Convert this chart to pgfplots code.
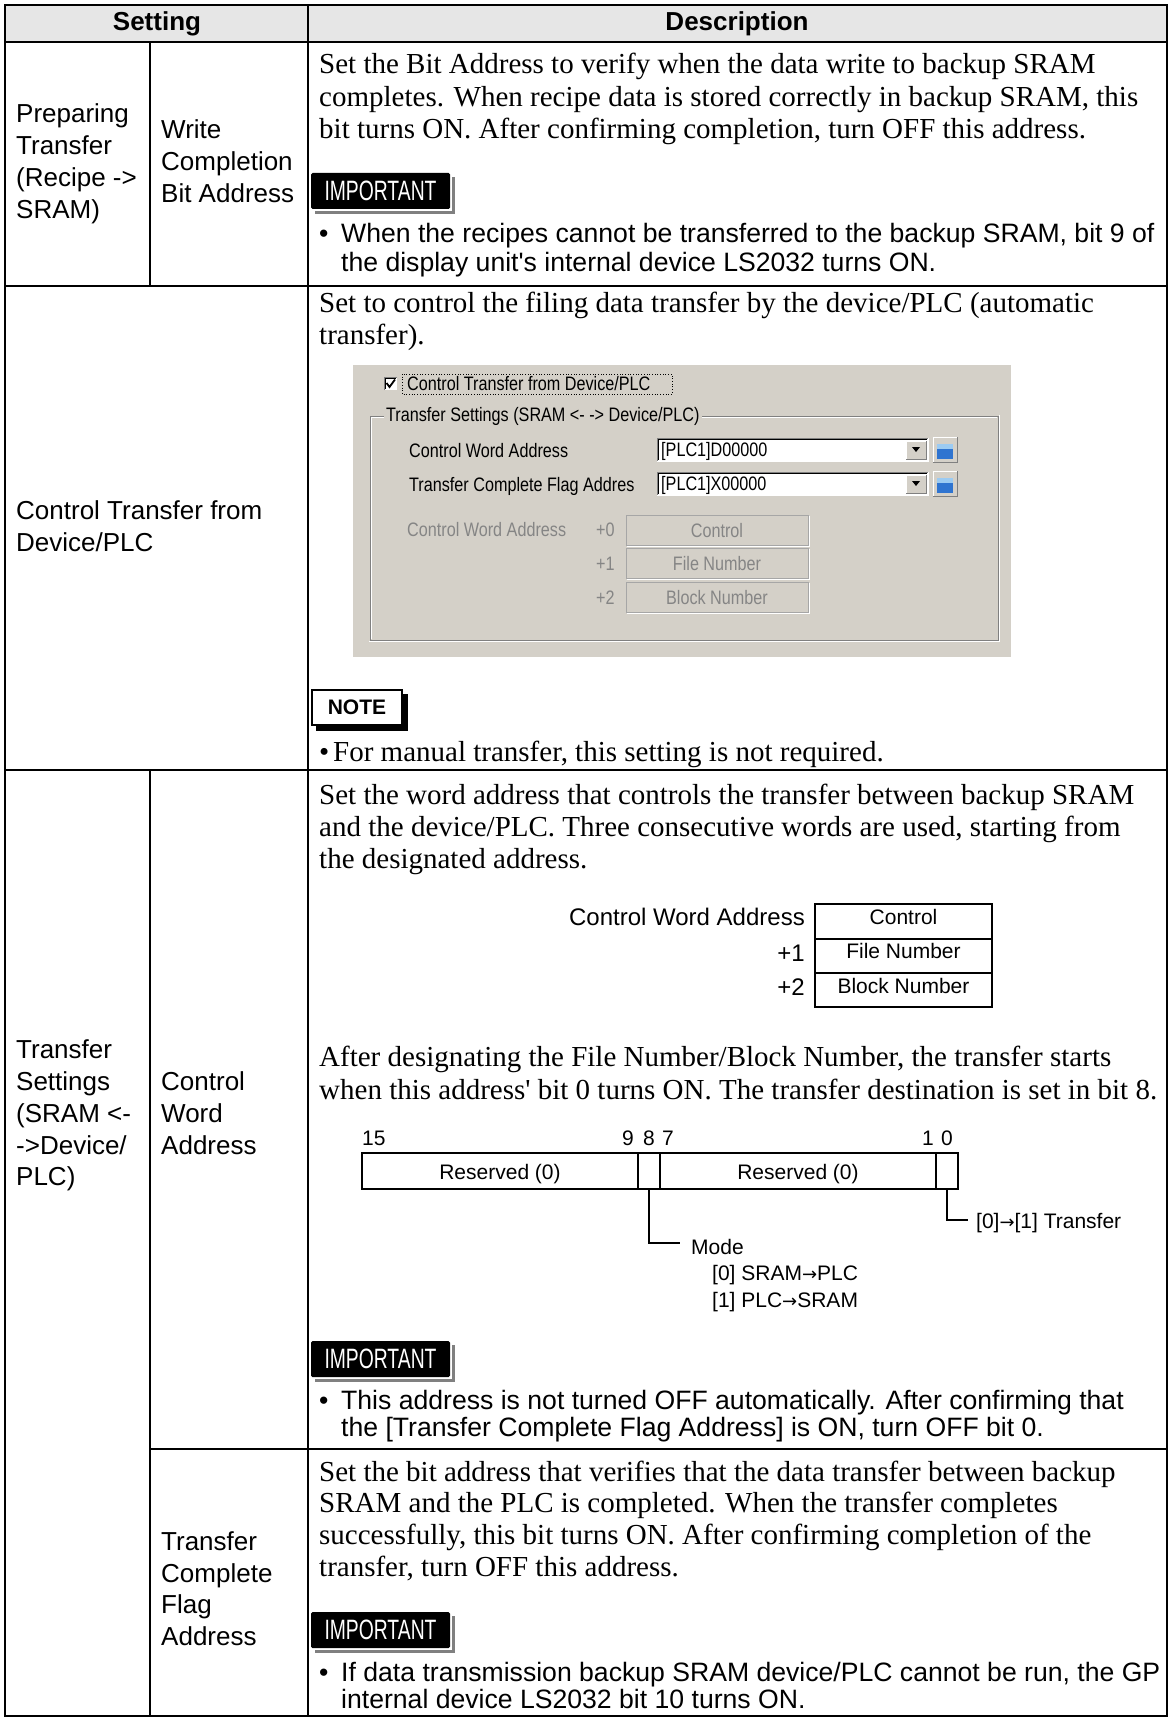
\documentclass[border=0pt]{standalone}
\usepackage{pgfplots}
\pgfplotsset{compat=1.18}
\usepackage{fontspec}
\setmainfont{Liberation Serif}
\setsansfont{Liberation Sans}
\newfontfamily\guifont[FakeStretch=0.83]{Liberation Sans}
\newfontfamily\condfont[FakeStretch=0.69]{Liberation Sans}
\newfontfamily\djv{DejaVu Sans}
\definecolor{hdr}{HTML}{E6E6E6}
\definecolor{guibg}{HTML}{D4D0C8}
\definecolor{guidis}{HTML}{858585}
\definecolor{guidark}{HTML}{808080}
\definecolor{iconblue}{HTML}{2F74D0}
\definecolor{iconlight}{HTML}{9CCBF2}
\newcommand{\arr}{{\djv\fontsize{18}{18}\selectfont →}}
\tikzset{
  bt/.style={anchor=base west, inner sep=0pt, font=\fontsize{29}{32}\selectfont},
  st/.style={anchor=base west, inner sep=0pt, font=\sffamily\fontsize{26}{30}\selectfont},
  sb/.style={anchor=base west, inner sep=0pt, font=\sffamily\fontsize{26.6}{30}\selectfont},
  dt/.style={inner sep=0pt, font=\sffamily\fontsize{21}{24}\selectfont},
  ct/.style={inner sep=0pt, font=\sffamily\fontsize{24}{26}\selectfont},
  gt/.style={anchor=base west, inner sep=0pt, font=\guifont\fontsize{19.5}{21}\selectfont},
  imp/.style={inner sep=0pt, text=white, font=\condfont\fontsize{28}{28}\selectfont},
}
\begin{document}
\begin{tikzpicture}
\begin{axis}[scale only axis, width=1172pt, height=1720pt,
  xmin=0, xmax=1172, ymin=0, ymax=1720, y dir=reverse,
  hide axis, clip=false]
% background
\fill[white] (0,0) rectangle (1172,1720);
% header fill
\fill[hdr] (5,5) rectangle (1167,42);
% table lines
\draw[black, line width=2.4pt, line cap=rect] (5,5) -- (1167,5);
\draw[black, line width=2.4pt] (5,42) -- (1167,42);
\draw[black, line width=2.4pt] (5,286) -- (1167,286);
\draw[black, line width=2.4pt] (5,770) -- (1167,770);
\draw[black, line width=2.4pt] (150,1449) -- (1167,1449);
\draw[black, line width=2.4pt, line cap=rect] (5,1716) -- (1167,1716);
\draw[black, line width=2.4pt, line cap=rect] (5,5) -- (5,1716);
\draw[black, line width=2.4pt] (308,5) -- (308,1716);
\draw[black, line width=2.4pt, line cap=rect] (1167,5) -- (1167,1716);
\draw[black, line width=2.4pt] (150,42) -- (150,286);
\draw[black, line width=2.4pt] (150,770) -- (150,1716);
% header text
\node[anchor=base, inner sep=0pt, font=\sffamily\bfseries\fontsize{26}{30}\selectfont] at (157,31) {Setting};
\node[anchor=base, inner sep=0pt, font=\sffamily\bfseries\fontsize{26}{30}\selectfont] at (737,31) {Description};
%================ Row 1
\node[st] at (16,123) {Preparing};
\node[st] at (16,155) {Transfer};
\node[st] at (16,187) {(Recipe -{}>};
\node[st] at (16,219) {SRAM)};
\node[st] at (161,139) {Write};
\node[st] at (161,171) {Completion};
\node[st] at (161,203) {Bit Address};
\node[bt] at (319,74) {Set the Bit Address to verify when the data write to backup SRAM};
\node[bt] at (319,107) {completes. When recipe data is stored correctly in backup SRAM, this};
\node[bt] at (319,139) {bit turns ON. After confirming completion, turn OFF this address.};
% IMPORTANT badge 1
\fill[guidark] (315,177) rectangle (455,214);
\fill[white] (311,173) rectangle (452,211);
\fill[black, rounded corners=1.5pt] (311,173) rectangle (450,209);
\node[imp] at (380.5,191) {IMPORTANT};
\node[sb] at (319,243) {•};
\node[sb] at (341,243) {When the recipes cannot be transferred to the backup SRAM, bit 9 of};
\node[sb] at (341,272) {the display unit\textquotesingle s internal device LS2032 turns ON.};
%================ Row 2
\node[st] at (16,519) {Control Transfer from};
\node[st] at (16,551) {Device/PLC};
\node[bt] at (319,312) {Set to control the filing data transfer by the device/PLC (automatic};
\node[bt] at (319,344) {transfer).};
% GUI screenshot
\fill[guibg] (353,365) rectangle (1011,657);
% checkbox
\fill[white] (384,377) rectangle (397,390);
\draw[guidark, line width=1pt] (384,390) -- (384,377) -- (397,377);
\draw[black, line width=1pt] (385,389) -- (385,378) -- (396,378);
\draw[black, line width=1.8pt] (386.5,383) -- (389.5,387) -- (395,379.5);
\draw[black, line width=0.7pt, dotted] (402,374) rectangle (672,394);
\node[gt] at (407,390) {Control Transfer from Device/PLC};
% group box
\draw[guidark, line width=1pt] (370,416) rectangle (998,640);
\draw[white, line width=1pt] (371,417) -- (997,417);
\draw[white, line width=1pt] (371,417) -- (371,639);
\draw[white, line width=1pt] (369,641) -- (999,641) -- (999,415);
\node[gt, fill=guibg, inner xsep=2pt, inner ysep=3pt] at (384,421) {Transfer Settings (SRAM <- -{}> Device/PLC)};
\node[gt] at (409,457) {Control Word Address};
\node[gt] at (409,491) {Transfer Complete Flag Addres};
% combo 1
\fill[white] (657,438) rectangle (928,461);
\draw[guidark, line width=1pt] (657,461) -- (657,438) -- (928,438);
\draw[black, line width=1pt] (658,460) -- (658,439) -- (927,439);
\draw[white, line width=1pt] (657,461.5) -- (928.5,461.5) -- (928.5,438);
\node[gt, text=black] at (661,456) {[PLC1]D00000};
\fill[guibg] (906,441) rectangle (926,459);
\draw[white, line width=1pt] (906,459) -- (906,441) -- (926,441);
\draw[guidark, line width=1pt] (906,459) -- (926,459) -- (926,441);
\fill[black] (912,447) -- (920,447) -- (916,452) -- cycle;
% icon 1
\fill[guibg] (933,437) rectangle (957,462);
\draw[white, line width=1pt] (933,462) -- (933,437) -- (957,437);
\draw[guidark, line width=1pt] (933,462) -- (957,462) -- (957,437);
\fill[iconblue] (937,444) rectangle (953,459);
\fill[iconlight] (937,444) rectangle (953,449);
% combo 2
\fill[white] (657,472) rectangle (928,495);
\draw[guidark, line width=1pt] (657,495) -- (657,472) -- (928,472);
\draw[black, line width=1pt] (658,494) -- (658,473) -- (927,473);
\draw[white, line width=1pt] (657,495.5) -- (928.5,495.5) -- (928.5,472);
\node[gt, text=black] at (661,490) {[PLC1]X00000};
\fill[guibg] (906,475) rectangle (926,493);
\draw[white, line width=1pt] (906,493) -- (906,475) -- (926,475);
\draw[guidark, line width=1pt] (906,493) -- (926,493) -- (926,475);
\fill[black] (912,481) -- (920,481) -- (916,486) -- cycle;
% icon 2
\fill[guibg] (933,471) rectangle (957,496);
\draw[white, line width=1pt] (933,496) -- (933,471) -- (957,471);
\draw[guidark, line width=1pt] (933,496) -- (957,496) -- (957,471);
\fill[iconblue] (937,478) rectangle (953,493);
\fill[iconlight] (937,478) rectangle (953,483);
% disabled area
\node[gt, text=guidis] at (407,536) {Control Word Address};
\node[gt, text=guidis] at (596,536) {+0};
\node[gt, text=guidis] at (596,570) {+1};
\node[gt, text=guidis] at (596,604) {+2};
\draw[guidark!70, line width=1pt] (626,515) rectangle (808,545);
\draw[white, line width=1pt] (627,546) -- (809,546) -- (809,516);
\draw[guidark!70, line width=1pt] (626,548) rectangle (808,578);
\draw[white, line width=1pt] (627,579) -- (809,579) -- (809,549);
\draw[guidark!70, line width=1pt] (626,582) rectangle (808,612);
\draw[white, line width=1pt] (627,613) -- (809,613) -- (809,583);
\node[inner sep=0pt, anchor=base, text=guidis, font=\guifont\fontsize{19.5}{21}\selectfont] at (717,537) {Control};
\node[inner sep=0pt, anchor=base, text=guidis, font=\guifont\fontsize{19.5}{21}\selectfont] at (717,570) {File Number};
\node[inner sep=0pt, anchor=base, text=guidis, font=\guifont\fontsize{19.5}{21}\selectfont] at (717,604) {Block Number};
% NOTE badge
\fill[black] (316,694) rectangle (408,731);
\fill[white] (311,689) rectangle (403,726);
\draw[black, line width=2pt] (312,690) rectangle (402,725);
\node[inner sep=0pt, font=\sffamily\bfseries\fontsize{21}{22}\selectfont] at (357,707.5) {NOTE};
\node[bt] at (319,761) {•};
\node[bt] at (333,761) {For manual transfer, this setting is not required.};
%================ Row 3
\node[st] at (16,1058) {Transfer};
\node[st] at (16,1090) {Settings};
\node[st] at (16,1122) {(SRAM <-};
\node[st] at (16,1154) {-{}>Device/};
\node[st] at (16,1185) {PLC)};
\node[st] at (161,1090) {Control};
\node[st] at (161,1122) {Word};
\node[st] at (161,1154) {Address};
\node[bt] at (319,804) {Set the word address that controls the transfer between backup SRAM};
\node[bt] at (319,836) {and the device/PLC. Three consecutive words are used, starting from};
\node[bt] at (319,868) {the designated address.};
% word box diagram
\node[ct, anchor=base east] at (805,925) {Control Word Address};
\node[ct, anchor=base east] at (805,961) {+1};
\node[ct, anchor=base east] at (805,995) {+2};
\draw[black, line width=1.8pt] (815,904) rectangle (992,1007);
\draw[black, line width=1.8pt] (815,939) -- (992,939);
\draw[black, line width=1.8pt] (815,973) -- (992,973);
\node[dt, anchor=base] at (903.5,924) {Control};
\node[dt, anchor=base] at (903.5,958) {File Number};
\node[dt, anchor=base] at (903.5,993) {Block Number};
\node[bt] at (319,1066) {After designating the File Number/Block Number, the transfer starts};
\node[bt] at (319,1099) {when this address\textquotesingle{} bit 0 turns ON. The transfer destination is set in bit 8.};
% bit diagram
\node[dt, anchor=base west] at (362,1145) {15};
\node[dt, anchor=base] at (628,1145) {9};
\node[dt, anchor=base] at (649,1145) {8};
\node[dt, anchor=base] at (668,1145) {7};
\node[dt, anchor=base] at (928,1145) {1};
\node[dt, anchor=base] at (947,1145) {0};
\draw[black, line width=1.4pt] (362,1153) rectangle (958,1189);
\draw[black, line width=1.4pt] (638,1153) -- (638,1189);
\draw[black, line width=1.4pt] (660,1153) -- (660,1189);
\draw[black, line width=1.4pt] (936,1153) -- (936,1189);
\node[dt, anchor=base] at (500,1179) {Reserved (0)};
\node[dt, anchor=base] at (798,1179) {Reserved (0)};
\draw[black, line width=2pt] (649,1189) -- (649,1243) -- (680,1243);
\draw[black, line width=2pt] (947,1189) -- (947,1220) -- (968,1220);
\node[dt, anchor=base west] at (976,1228) {[0]\arr[1] Transfer};
\node[dt, anchor=base west] at (691,1254) {Mode};
\node[dt, anchor=base west] at (712,1280) {[0] SRAM\arr PLC};
\node[dt, anchor=base west] at (712,1307) {[1] PLC\arr SRAM};
% IMPORTANT badge 2
\fill[guidark] (315,1345) rectangle (455,1382);
\fill[white] (311,1341) rectangle (452,1379);
\fill[black, rounded corners=1.5pt] (311,1341) rectangle (450,1377);
\node[imp] at (380.5,1359) {IMPORTANT};
\node[sb] at (319,1409) {•};
\node[sb] at (341,1409) {This address is not turned OFF automatically. After confirming that};
\node[sb] at (341,1436) {the [Transfer Complete Flag Address] is ON, turn OFF bit 0.};
%================ Row 4
\node[st] at (161,1550) {Transfer};
\node[st] at (161,1582) {Complete};
\node[st] at (161,1613) {Flag};
\node[st] at (161,1645) {Address};
\node[bt] at (319,1481) {Set the bit address that verifies that the data transfer between backup};
\node[bt] at (319,1512) {SRAM and the PLC is completed. When the transfer completes};
\node[bt] at (319,1544) {successfully, this bit turns ON. After confirming completion of the};
\node[bt] at (319,1576) {transfer, turn OFF this address.};
% IMPORTANT badge 3
\fill[guidark] (315,1616) rectangle (455,1653);
\fill[white] (311,1612) rectangle (452,1650);
\fill[black, rounded corners=1.5pt] (311,1612) rectangle (450,1648);
\node[imp] at (380.5,1630) {IMPORTANT};
\node[sb] at (319,1681) {•};
\node[sb] at (341,1681) {If data transmission backup SRAM device/PLC cannot be run, the GP};
\node[sb] at (341,1708) {internal device LS2032 bit 10 turns ON.};
\end{axis}
\end{tikzpicture}
\end{document}
